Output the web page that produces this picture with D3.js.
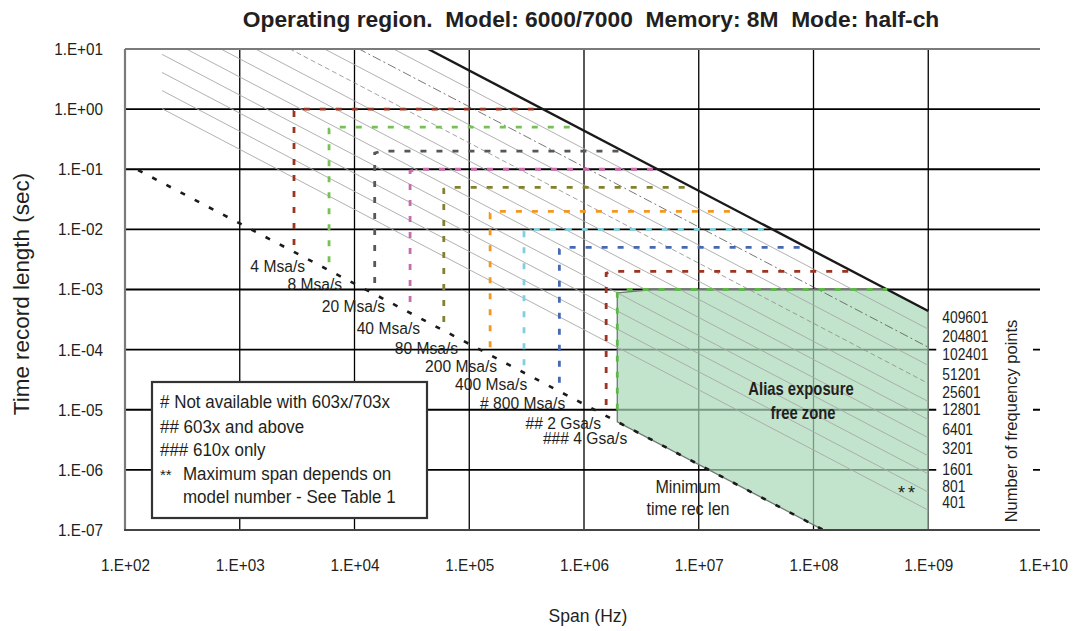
<!DOCTYPE html>
<html><head><meta charset="utf-8">
<script src="https://cdn.jsdelivr.net/npm/d3@7"></script>
<style>body{margin:0;background:#fff}svg{display:block}</style>
</head><body>
<svg id="c" width="1076" height="631"></svg>
<script>
// ---------- data ----------
const titleText = "Operating region.  Model: 6000/7000  Memory: 8M  Mode: half-ch";
const xTicks = [1e2,1e3,1e4,1e5,1e6,1e7,1e8,1e9,1e10];
const xTickLabels = ["1.E+02","1.E+03","1.E+04","1.E+05","1.E+06","1.E+07","1.E+08","1.E+09","1.E+10"];
const yTicks = [1e1,1e0,1e-1,1e-2,1e-3,1e-4,1e-5,1e-6,1e-7];
const yTickLabels = ["1.E+01","1.E+00","1.E-01","1.E-02","1.E-03","1.E-04","1.E-05","1.E-06","1.E-07"];

// constant-frequency-point lines: T = lineConst * N / span
const lineN = [200,400,800,1600,3200,6400,12800,25600,51200,102400,204800];
const lineStyle = ["s","s","s","s","s","s","s","d","s","dd","s"];
const lineConst = 1.07;
const lineSpanStart = 210, lineSpanEnd = 1e9;
const maxLineT = [10, 4.38e-4];          // heavy limit line (409600 points)
const maxLineSpan = [4.38e4, 1e9];

// minimum time record length (dashed black)
const minSpan = [130, 1.22e8];
const minT = [0.097, 1.0e-7];

// sample-rate regions
const rateNames = ["4 Msa/s","8 Msa/s","20 Msa/s","40 Msa/s","80 Msa/s","200 Msa/s","400 Msa/s","# 800 Msa/s","## 2 Gsa/s","### 4 Gsa/s"];
const rateColors = ["#9b3421","#74c255","#575757","#c96aae","#83812f","#f5971f","#80d0e0","#4668b5","#9b3421","#5db947"];
const rateSpanMin = [2970,6000,1.5e4,3.05e4,6.0e4,1.52e5,3.0e5,6.1e5,1.56e6,1.95e6];
const rateTmin = [5.5e-3,2.85e-3,1.28e-3,6.2e-4,2.87e-4,1.1e-4,5.5e-5,2.8e-5,1.2e-5,1.0e-5];
const rateTmax = [1,0.5,0.2,0.1,0.05,0.02,0.01,0.005,0.002,0.001];
const rateSpanMax = [4.4e5,8.8e5,2.2e6,4.4e6,8.8e6,2.2e7,4.4e7,8.8e7,2.2e8,4.4e8];
const rateLabelSpan = [3710,7800,1.85e4,3.73e4,8.0e4,1.75e5,3.2e5,6.86e5,1.41e6,2.38e6];
const rateLabelT = [1.95e-3,9.8e-4,4.2e-4,1.81e-4,8.4e-5,4.2e-5,2.1e-5,1.02e-5,4.75e-6,2.68e-6];

// alias exposure free zone polygon
const zoneSpan = [1.95e6, 4.0e6, 4.38e8, 1e9, 1e9, 1.22e8, 1.95e6];
const zoneT    = [8.8e-4, 1e-3, 1e-3, 4.38e-4, 1e-7, 1e-7, 6.3e-6];

// number of frequency points labels
const freqPoints = ["409601","204801","102401","51201","25601","12801","6401","3201","1601","801","401"];
const freqLabelT = [2.76e-4,1.33e-4,6.7e-5,3.1e-5,1.56e-5,8.1e-6,3.78e-6,1.82e-6,8.2e-7,4.25e-7,2.3e-7];

const legendLines = ["# Not available with 603x/703x","## 603x and above","### 610x only","Maximum span depends on","model number - See Table 1"];

// ---------- drawing ----------
const FONT = "'Liberation Sans', Arial, sans-serif";
const TXT = "#231f20";
const svg = d3.select("#c");
const x = d3.scaleLog().domain([1e2,1e10]).range([125,1043]);
const y = d3.scaleLog().domain([1e1,1e-7]).range([49,530]);
const line = d3.line().x(d=>x(d[0])).y(d=>y(d[1]));

// text helper: condensed look via horizontal scaling
function label(parent, o){
  const g = parent.append("g")
    .attr("transform",`translate(${o.x},${o.y})${o.rot?` rotate(${o.rot})`:""} scale(${o.sx||1},1)`);
  const t = g.append("text").attr("x",0).attr("y",0)
    .attr("text-anchor",o.anchor||"start")
    .attr("font-family",FONT).attr("font-size",o.size)
    .attr("font-weight",o.weight||"normal").attr("fill",TXT)
    .style("white-space","pre").text(o.text);
  if(o.ls) t.attr("letter-spacing",o.ls);
  return t;
}

svg.append("defs").append("clipPath").attr("id","plot")
  .append("rect").attr("x",x(1e2)).attr("y",y(1e1)).attr("width",x(1e10)-x(1e2)).attr("height",y(1e-7)-y(1e1));

// grid
const grid = svg.append("g");
grid.selectAll("line.v").data(xTicks.slice(1,-1)).join("line").attr("class","v")
  .attr("x1",d=>x(d)).attr("x2",d=>x(d)).attr("y1",y(1e1)).attr("y2",y(1e-7))
  .attr("stroke","#000").attr("stroke-width",1.3);
grid.selectAll("line.h").data(yTicks.slice(1,-1)).join("line").attr("class","h")
  .attr("x1",x(1e2)).attr("x2",x(1e10)-3).attr("y1",d=>y(d)).attr("y2",d=>y(d))
  .attr("stroke","#000").attr("stroke-width",1.8);

// white panel behind right-hand labels
svg.append("rect").attr("x",x(1e9)+8).attr("y",y(1e-3)+5)
  .attr("width",x(1e10)-x(1e9)-18).attr("height",y(1e-7)-y(1e-3)-7).attr("fill","#fff");

// zone
svg.append("path").datum(zoneSpan.map((s,i)=>[s,zoneT[i]]))
  .attr("d",d=>line(d)+"Z").attr("fill","rgb(168,215,182)").attr("fill-opacity",0.7)
  .attr("stroke","#6f7a72").attr("stroke-width",1.3);

// constant-N lines
const dg = svg.append("g").attr("clip-path","url(#plot)");
dg.selectAll("path.n").data(lineN).join("path").attr("class","n")
  .attr("d",n=>line([[lineSpanStart,lineConst*n/lineSpanStart],[lineSpanEnd,lineConst*n/lineSpanEnd]]))
  .attr("fill","none")
  .attr("stroke",(n,i)=>lineStyle[i]==="s"?"#a8a8a8":(lineStyle[i]==="d"?"#8a8a8a":"#555"))
  .attr("stroke-width",(n,i)=>lineStyle[i]==="s"?0.9:0.8)
  .attr("stroke-dasharray",(n,i)=>lineStyle[i]==="s"?null:(lineStyle[i]==="d"?"5,3":"9,3,2,3"));
dg.append("path").datum(maxLineSpan.map((s,i)=>[s,maxLineT[i]]))
  .attr("d",line).attr("fill","none").attr("stroke","#1a1a1a").attr("stroke-width",2.4);

// sample rate regions
svg.append("g").selectAll("path").data(rateNames).join("path")
  .attr("d",(r,i)=>line([[rateSpanMin[i],rateTmin[i]],[rateSpanMin[i],rateTmax[i]*0.93],[rateSpanMin[i]*1.15,rateTmax[i]],[rateSpanMax[i],rateTmax[i]]]))
  .attr("fill","none").attr("stroke",(r,i)=>rateColors[i]).attr("stroke-width",2.8)
  .attr("stroke-dasharray","6,10");

// minimum time record length
svg.append("path").datum(minSpan.map((s,i)=>[s,minT[i]]))
  .attr("d",line).attr("fill","none").attr("stroke","#1a1a1a").attr("stroke-width",2.6)
  .attr("stroke-dasharray","5,11");

// borders
svg.append("line").attr("x1",x(1e2)).attr("x2",x(1e10)-3).attr("y1",y(1e1)).attr("y2",y(1e1)).attr("stroke","#7a7a7a").attr("stroke-width",2.2);
svg.append("line").attr("x1",x(1e2)).attr("x2",x(1e2)).attr("y1",y(1e1)).attr("y2",y(1e-7)).attr("stroke","#7a7a7a").attr("stroke-width",2.2);
svg.append("line").attr("x1",x(1e2)-1).attr("x2",x(1e10)-3).attr("y1",y(1e-7)).attr("y2",y(1e-7)).attr("stroke","#444").attr("stroke-width",2);

// axes labels (condensed via horizontal scale)
const TSX = 0.9;
svg.append("g").attr("transform",`translate(0,${y(1e-7)})`)
  .call(d3.axisBottom(x).tickValues(xTicks).tickFormat((d,i)=>xTickLabels[i]).tickSize(0).tickPadding(29))
  .call(g=>g.select(".domain").remove())
  .attr("font-family",FONT).attr("font-size",17).attr("color",TXT)
  .selectAll("text").attr("transform",`scale(${TSX},1)`);
svg.append("g").attr("transform",`translate(${x(1e2)},0)`)
  .call(d3.axisLeft(y).tickValues(yTicks).tickFormat((d,i)=>yTickLabels[i]).tickSize(0).tickPadding(22))
  .call(g=>g.select(".domain").remove())
  .attr("font-family",FONT).attr("font-size",17).attr("color",TXT)
  .selectAll("text").attr("x",-22/TSX).attr("transform",`scale(${TSX},1)`);

// rate labels
const rl = svg.append("g");
rateNames.forEach((r,i)=>label(rl,{x:x(rateLabelSpan[i]),y:y(rateLabelT[i]),text:r,size:17,sx:0.92,anchor:"end"}));

// frequency points labels
const fl = svg.append("g");
freqPoints.forEach((p,i)=>label(fl,{x:x(1e9)+14,y:y(freqLabelT[i]),text:p,size:16.5,sx:0.84}));

// zone labels
label(svg,{x:801,y:395,text:"Alias exposure",size:18.5,sx:0.8,weight:"bold",anchor:"middle"});
label(svg,{x:803,y:419,text:"free zone",size:18.5,sx:0.8,weight:"bold",anchor:"middle"});
label(svg,{x:908,y:499,text:"**",size:18,anchor:"middle",ls:3});
label(svg,{x:688,y:493,text:"Minimum",size:17.5,sx:0.92,anchor:"middle"});
label(svg,{x:688,y:515,text:"time rec len",size:17.5,sx:0.92,anchor:"middle"});

// legend box
const lg = svg.append("g");
lg.append("rect").attr("x",152).attr("y",382).attr("width",275).attr("height",136)
  .attr("fill","#fff").attr("stroke","#333").attr("stroke-width",2.2);
const lx = [160,160,160,183,183], ly = [408,433,456,480,503];
legendLines.forEach((t,i)=>label(lg,{x:lx[i],y:ly[i],text:t,size:17.5,sx:0.97}));
label(lg,{x:160,y:480,text:"**",size:15});

// axis titles
label(svg,{x:588,y:622,text:"Span (Hz)",size:17.5,anchor:"middle"});
label(svg,{x:29,y:294,rot:-90,text:"Time record length (sec)",size:22,sx:1.02,anchor:"middle"});
label(svg,{x:1017,y:421,rot:-90,text:"Number of frequency points",size:16.5,anchor:"middle"});

// title: fit to the reference width
const tt = label(svg,{x:591,y:27,text:titleText,size:22,weight:"bold",anchor:"middle"});
const tl = tt.node().getComputedTextLength();
d3.select(tt.node().parentNode).attr("transform",`translate(591,27) scale(${697/tl},1)`);
</script>
</body></html>
